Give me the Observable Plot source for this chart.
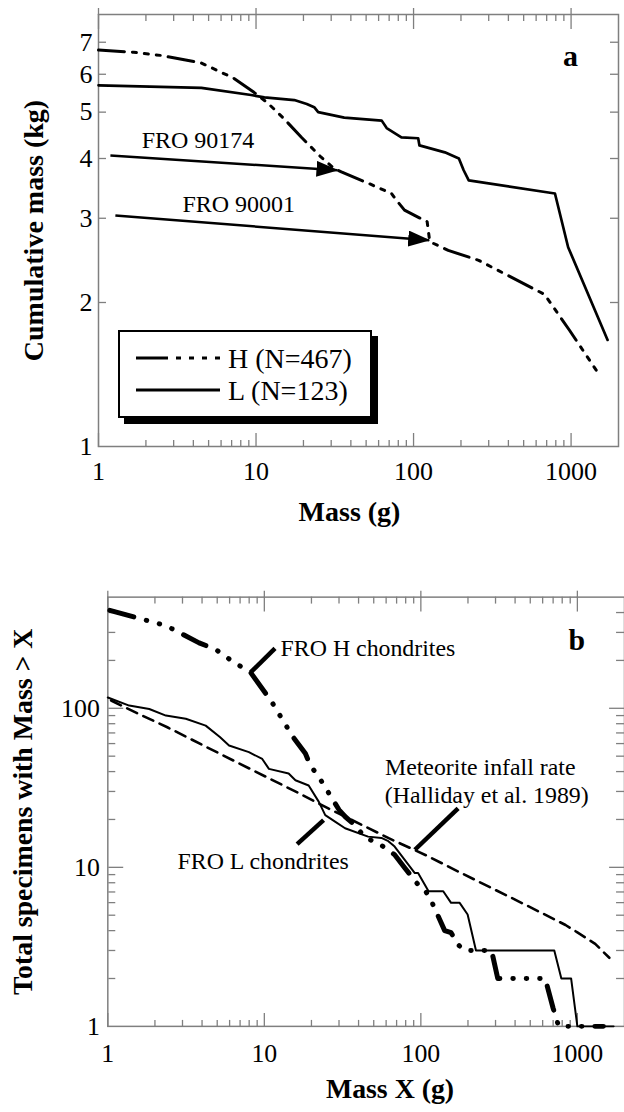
<!DOCTYPE html>
<html><head><meta charset="utf-8">
<script src="https://cdn.jsdelivr.net/npm/d3@7"></script>
<script src="https://cdn.jsdelivr.net/npm/@observablehq/plot@0.6"></script>
<style>
html,body{margin:0;padding:0;background:#fff;overflow:hidden}
#wrap{position:relative;width:624px;height:1112px;overflow:hidden;background:#fff;font-family:'Liberation Serif','Times New Roman',serif}
#wrap svg, #wrap svg text{font-family:'Liberation Serif','Times New Roman',serif !important}
#pa{position:absolute;left:0;top:0}
#pb{position:absolute;left:0;top:540px}
#legend{position:absolute;left:118px;top:330px;width:250px;height:84px;border:2px solid #000;box-shadow:6px 6px 0 #000;background:#fff;z-index:5}
#legend svg{position:absolute;left:0;top:0}
</style></head><body>
<div id="wrap">
  <div id="pa"></div>
  <div id="pb"></div>
  <div id="legend"><svg width="250" height="84">
    <line x1="16" x2="100" y1="26" y2="26" stroke="#000" stroke-width="3" stroke-dasharray="32,8,5,8,5,8,5,8"/>
    <line x1="16" x2="100" y1="58" y2="58" stroke="#000" stroke-width="3"/>
    <text x="108" y="36" font-size="28" fill="#000">H (N=467)</text>
    <text x="108" y="68" font-size="28" fill="#000">L (N=123)</text>
  </svg></div>
</div>
<script>
// ---------- Panel a data: cumulative mass (kg) vs mass (g) ----------
const hMassA = [1, 1.67, 2.48, 4.47, 7.2, 9.7, 11.9, 15, 19.4, 25.8, 31.4, 34.8, 51.7, 72.5, 78, 87.6, 117, 122, 126, 130, 166, 259, 678, 977, 1452];
const hCumA  = [6.74, 6.67, 6.57, 6.34, 5.89, 5.5, 5.22, 4.85, 4.43, 4.03, 3.81, 3.75, 3.55, 3.38, 3.27, 3.12, 2.97, 2.95, 2.72, 2.67, 2.57, 2.45, 2.08, 1.75, 1.44];
const lMassA = [1, 4.5, 9.3, 11.3, 17.5, 21, 23.4, 24.8, 36.3, 62.8, 67.5, 83.7, 107, 109, 158, 194, 208, 224, 790, 958, 1705];
const lCumA  = [5.69, 5.62, 5.43, 5.37, 5.30, 5.2, 5.12, 5.0, 4.87, 4.8, 4.63, 4.43, 4.41, 4.26, 4.12, 4.0, 3.78, 3.6, 3.38, 2.61, 1.67];

const annAText = ["FRO 90174", "FRO 90001"];
const annAX = [4.28, 7.77];
const annAY = [4.37, 3.21];
const arrX1 = [1.19, 1.28];
const arrY1 = [4.06, 3.04];
const arrX2 = [32.9, 125.7];
const arrY2 = [3.78, 2.70];

// ---------- Panel b data: number of specimens with mass > X ----------
const hMassB  = [1.03, 1.55, 2.35, 3.83, 4.9, 6.23, 8.17, 11.2, 15.1, 16.2, 18.3, 19.6, 22.3, 30, 32.9, 38, 44.3, 53.5, 68, 79, 100, 106, 114, 142, 156, 172, 190, 283, 310, 623, 700, 760, 1466];
const hCountB = [413, 370, 331, 258, 234, 198, 168, 109, 67, 61, 52, 44, 37, 23, 20.8, 18.4, 15.3, 14.2, 12, 9.9, 7.4, 7.2, 6.45, 4.0, 3.88, 3.28, 3, 3, 2, 2, 1.3, 1, 1];
const lMassB  = [1, 1.37, 1.84, 2.35, 3.15, 4.22, 5.2, 5.95, 7.97, 9.7, 10.7, 14.3, 15.8, 19.2, 22.3, 24.5, 28.3, 32.8, 46, 56, 62, 68, 91.5, 96, 112, 139, 156, 177, 199, 225, 712, 790, 912, 1000, 1705];
const lCountB = [117, 104, 99, 90, 86, 77.8, 66, 58.4, 53, 48, 41.6, 38.9, 35.3, 32.7, 25.8, 21.3, 19.4, 17.6, 15.6, 15.3, 14.6, 13.5, 9.2, 9.2, 7.07, 7.07, 5.98, 5.98, 5.05, 3, 3, 2, 2, 1, 1];
const infallMass  = [1.05, 1.3, 1.7, 2.4, 6.6, 16, 25.8, 62.8, 112, 166, 284, 485, 840, 1000, 1300, 1600];
const infallCount = [112, 101, 89, 76, 46, 29.8, 23.4, 15.2, 11.7, 9.6, 7.4, 5.7, 4.34, 3.9, 3.3, 2.7];

const annBText = ["FRO H chondrites", "Meteorite infall rate", "(Halliday et al. 1989)", "FRO L chondrites"];
const annBX = [12.7, 59.0, 58.9, 2.79];
const annBY = [236.6, 42.4, 28.3, 10.95];
const ldX1 = [8.17, 91.6, 16.2];
const ldY1 = [168, 12.9, 14.0];
const ldX2 = [11.7, 173, 23.9];
const ldY2 = [238, 23.5, 19.8];

// ---------- Tick values ----------
const xMajor = [1, 10, 100, 1000];
const xMinor = [2,3,4,5,6,7,8,9,20,30,40,50,60,70,80,90,200,300,400,500,600,700,800,900];
const yLabelsA = [1, 2, 3, 4, 5, 6, 7];
const yMinorA = [2, 3, 4, 5, 6, 7];
const yLabelsB = [1, 10, 100];
const yMajorB = [10, 100];
const yMinorB = [2,3,4,5,6,7,8,9,20,30,40,50,60,70,80,90,200,300,400];

// ---------- helpers ----------
const FONT = "Liberation Serif, Times New Roman, serif";
const G = "#7f7f7f";
const zip = (xs, ys) => xs.map((x, i) => ({x, y: ys[i]}));
const T = {fontFamily: FONT, fill: "black", textAnchor: "middle", lineAnchor: "middle"};

function filledArrow(color) {
  const ns = "http://www.w3.org/2000/svg";
  const m = document.createElementNS(ns, "marker");
  m.setAttribute("viewBox", "0 0 22 16");
  m.setAttribute("markerWidth", 22);
  m.setAttribute("markerHeight", 16);
  m.setAttribute("markerUnits", "userSpaceOnUse");
  m.setAttribute("refX", 21);
  m.setAttribute("refY", 8);
  m.setAttribute("orient", "auto");
  const p = document.createElementNS(ns, "path");
  p.setAttribute("d", "M0,0L22,8L0,16Z");
  p.setAttribute("fill", color);
  p.setAttribute("stroke", "none");
  m.appendChild(p);
  return m;
}

function tickMarks(yMinor, yMajor, rightMinorSize) {
  const c = {tickFormat: () => "", label: null, stroke: G, strokeWidth: 1.3};
  const marks = [
    Plot.axisX(xMinor, {...c, anchor: "top", frameAnchor: "bottom", tickSize: 7}),
    Plot.axisX(xMajor, {...c, anchor: "top", frameAnchor: "bottom", tickSize: 14}),
    Plot.axisX(xMinor, {...c, anchor: "bottom", frameAnchor: "top", tickSize: 7}),
    Plot.axisX(xMajor, {...c, anchor: "bottom", frameAnchor: "top", tickSize: 15}),
    Plot.axisX(xMajor, {...c, anchor: "top", frameAnchor: "top", tickSize: 7}),
    Plot.axisY(yMinor, {...c, anchor: "right", frameAnchor: "left", tickSize: 7}),
    Plot.axisY(yMinor, {...c, anchor: "left", frameAnchor: "right", tickSize: rightMinorSize})
  ];
  if (yMajor.length) {
    marks.push(Plot.axisY(yMajor, {...c, anchor: "right", frameAnchor: "left", tickSize: 15}));
    marks.push(Plot.axisY(yMajor, {...c, anchor: "left", frameAnchor: "right", tickSize: 15}));
  }
  return marks;
}

function buildA(marker) {
  return Plot.plot({
    width: 624, height: 540,
    marginLeft: 98, marginRight: 6, marginTop: 14, marginBottom: 94,
    x: {type: "log", domain: [1, 2000]},
    y: {type: "log", domain: [1, 8]},
    style: {fontFamily: FONT, background: "transparent", overflow: "visible", color: "black"},
    marks: [
      Plot.frame({stroke: G, strokeWidth: 1.5}),
      ...tickMarks(yMinorA, [], 8),
      Plot.axisX(xMajor, {anchor: "bottom", tickSize: 0, tickPadding: 15, tickFormat: d => String(d), fontSize: 26, fontFamily: FONT, label: null, fill: "black"}),
      Plot.axisY(yLabelsA, {anchor: "left", tickSize: 0, tickPadding: 6, tickFormat: d => String(d), fontSize: 26, fontFamily: FONT, label: null, fill: "black"}),
      Plot.text(["Cumulative mass (kg)"], {...T, text: d => d, frameAnchor: "left", rotate: -90, dx: -64, fontSize: 28, fontWeight: "bold"}),
      Plot.text(["Mass (g)"], {...T, text: d => d, frameAnchor: "bottom", dy: 66, dx: -9, fontSize: 28, fontWeight: "bold"}),
      Plot.text(["a"], {...T, text: d => d, frameAnchor: "top-right", dx: -48, dy: 42, fontSize: 30, fontWeight: "bold"}),
      Plot.line(zip(lMassA, lCumA), {x: "x", y: "y", stroke: "black", strokeWidth: 2.7}),
      Plot.line(zip(hMassA, hCumA), {x: "x", y: "y", stroke: "black", strokeWidth: 3, strokeDasharray: "26,8,4,8,4,8,4,8"}),
      Plot.link(arrX1.map((x1, i) => ({x1, y1: arrY1[i], x2: arrX2[i], y2: arrY2[i]})),
        {x1: "x1", y1: "y1", x2: "x2", y2: "y2", stroke: "black", strokeWidth: 2.5, markerEnd: marker}),
      Plot.text(annAText.map((t, i) => ({t, x: annAX[i], y: annAY[i]})), {...T, x: "x", y: "y", text: "t", fontSize: 24})
    ]
  });
}

function buildB() {
  return Plot.plot({
    width: 628, height: 572,
    marginLeft: 108, marginRight: 0, marginTop: 57, marginBottom: 83,
    x: {type: "log", domain: [1, 2000]},
    y: {type: "log", domain: [1, 500]},
    style: {fontFamily: FONT, background: "transparent", overflow: "visible", color: "black"},
    marks: [
      Plot.frame({stroke: G, strokeWidth: 1.5}),
      ...tickMarks(yMinorB, yMajorB, 8),
      Plot.axisX(xMajor, {anchor: "bottom", tickSize: 0, tickPadding: 17, tickFormat: d => String(d), fontSize: 26, fontFamily: FONT, label: null, fill: "black"}),
      Plot.axisY(yLabelsB, {anchor: "left", tickSize: 0, tickPadding: 8, tickFormat: d => String(d), fontSize: 26, fontFamily: FONT, label: null, fill: "black"}),
      Plot.text(["Total specimens with Mass > X"], {...T, text: d => d, frameAnchor: "left", rotate: -90, dx: -85, fontSize: 28, fontWeight: "bold"}),
      Plot.text(["Mass X (g)"], {...T, text: d => d, frameAnchor: "bottom", dy: 63, dx: 24, fontSize: 28, fontWeight: "bold"}),
      Plot.text(["b"], {...T, text: d => d, frameAnchor: "top-right", dx: -48, dy: 44, fontSize: 30, fontWeight: "bold"}),
      Plot.line(zip(infallMass, infallCount), {x: "x", y: "y", stroke: "black", strokeWidth: 2.6, strokeDasharray: "11,7"}),
      Plot.line(zip(lMassB, lCountB), {x: "x", y: "y", stroke: "black", strokeWidth: 2}),
      Plot.line(zip(hMassB, hCountB), {x: "x", y: "y", stroke: "black", strokeWidth: 5, strokeLinecap: "round", strokeDasharray: "25,13,0.5,13,0.5,13,0.5,13"}),
      Plot.link(ldX1.map((x1, i) => ({x1, y1: ldY1[i], x2: ldX2[i], y2: ldY2[i]})),
        {x1: "x1", y1: "y1", x2: "x2", y2: "y2", stroke: "black", strokeWidth: 4.5}),
      Plot.text(annBText.map((t, i) => ({t, x: annBX[i], y: annBY[i]})), {...T, x: "x", y: "y", text: "t", textAnchor: "start", fontSize: 24})
    ]
  });
}

let a;
try { a = buildA(filledArrow); } catch (e) { console.error(e); a = buildA("arrow"); }
document.getElementById("pa").appendChild(a);
document.getElementById("pb").appendChild(buildB());
</script>
</body></html>
